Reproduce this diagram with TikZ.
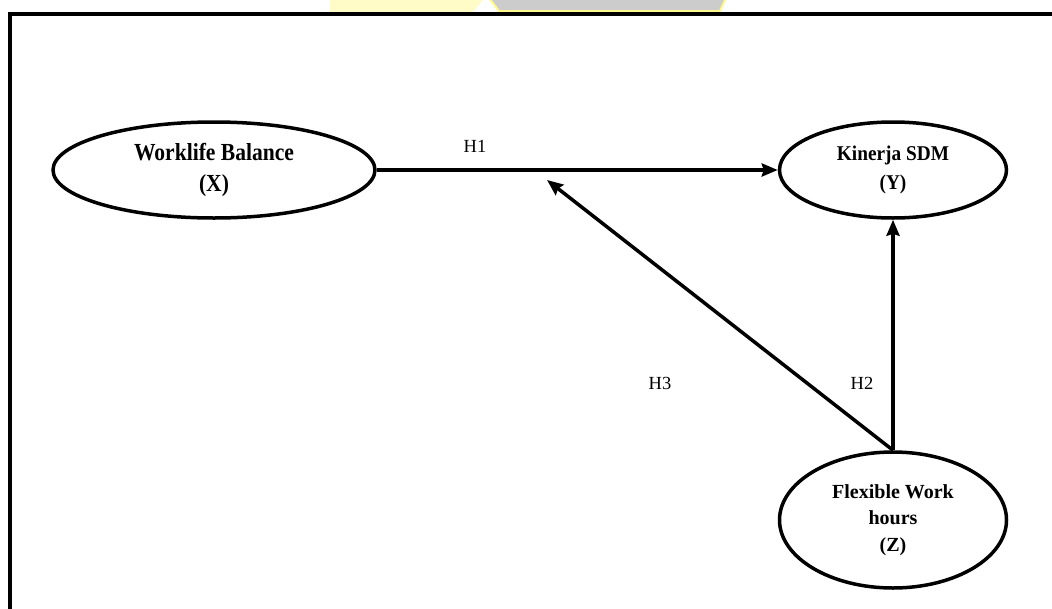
\documentclass[tikz,border=0pt]{standalone}
\usepackage{fontspec}
\setmainfont{Liberation Serif}
\newfontfamily\bigfont[FakeStretch=0.88]{Liberation Serif}
\newfontfamily\midfont[FakeStretch=0.92]{Liberation Serif}
\usetikzlibrary{shapes.geometric,arrows.meta}
\tikzset{
  var/.style={ellipse, draw, line width=3.5pt, inner sep=0pt, align=center},
  link/.style={line width=3.5pt, -{Stealth[length=16pt,width=13pt,inset=2pt]}},
  hlabel/.style={font=\fontsize{18.5}{20}\selectfont},
}
\begin{document}
\begin{tikzpicture}[x=1pt,y=-1pt]
\useasboundingbox (0,0) rectangle (1052,608);
% watermark remnant
\fill[yellow!22!white] (330,0) -- (483,0) -- (473,12) -- (330,12) -- cycle;
\filldraw[fill=gray!40, draw=yellow!45!white, line width=2pt] (489,-2) -- (726,-2) -- (720,11) -- (499,11) -- cycle;
% frame
\draw[line width=4pt] (10,610) -- (10,13.7) -- (1054,13.7);
% variables
\node[var, minimum width=322pt, minimum height=96pt,
  font={\bigfont\bfseries\fontsize{24.5}{31}\selectfont}] (X) at (214,170)
  {Worklife Balance\\(X)};
\node[var, minimum width=227pt, minimum height=96pt,
  font={\midfont\bfseries\fontsize{21}{29}\selectfont}] (Y) at (893,170)
  {Kinerja SDM\\(Y)};
\node[var, minimum width=227pt, minimum height=136pt,
  font={\bfseries\fontsize{20}{26.5}\selectfont}] (Z) at (893,520)
  {Flexible Work\\hours\\(Z)};
\coordinate (M) at (547,180);
% connectors
\draw[link] (X.east) -- (Y.west);
\draw[link] (Z.north) -- (Y.south);
\draw[link] (Z.north) -- (M);
% labels
\node[hlabel] (h1) at (475,146) {H1};
\node[hlabel] (h3) at (660,383) {H3};
\node[hlabel] (h2) at (862,383) {H2};
\end{tikzpicture}
\end{document}
